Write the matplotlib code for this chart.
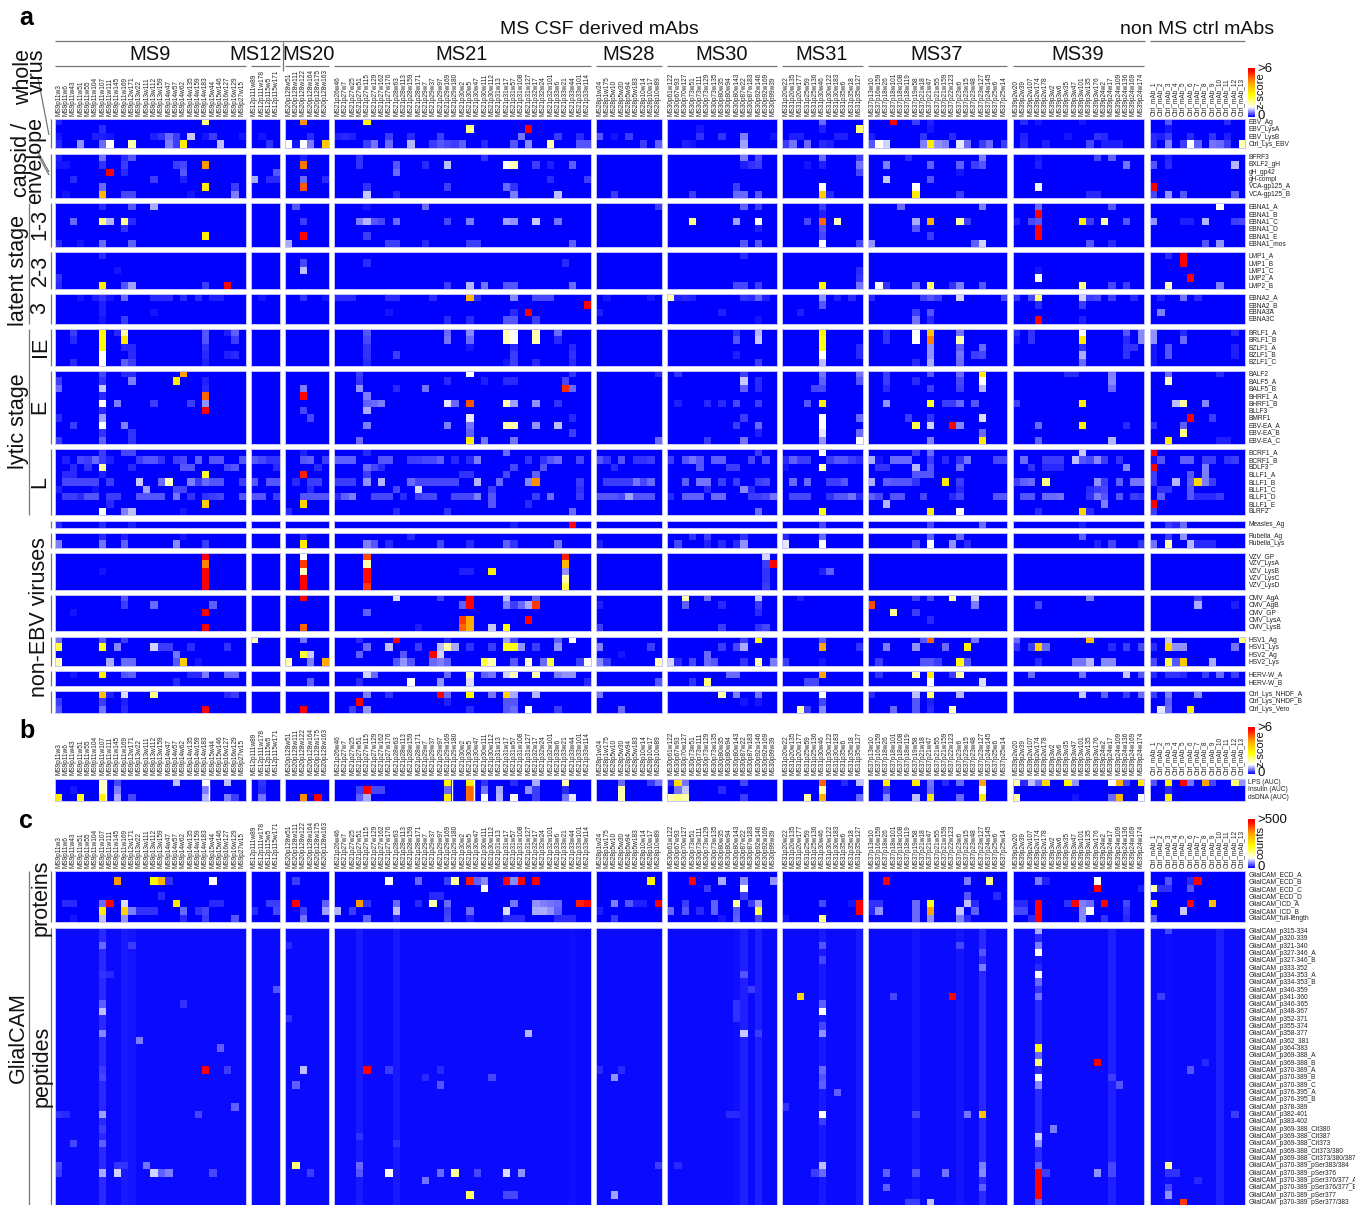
import numpy as np
import matplotlib
matplotlib.use("Agg")
import matplotlib.pyplot as plt
from matplotlib.colors import LinearSegmentedColormap, Normalize
from matplotlib.cm import ScalarMappable

plt.rcParams['font.family'] = ['Liberation Sans', 'DejaVu Sans']

# ---------- column labels ----------
COLS_MS9 = "MS9p11w3 MS9p11w6 MS9p11w43 MS9p11w51 MS9p11w55 MS9p11w104 MS9p11w107 MS9p11w111 MS9p11w145 MS9p11w169 MS9p12w171 MS9p13w22 MS9p13w111 MS9p13w112 MS9p13w159 MS9p14w47 MS9p14w57 MS9p14w62 MS9p14w135 MS9p14w159 MS9p14w183 MS9p15w44 MS9p15w146 MS9p16w127 MS9p16w129 MS9p27w15".split()
COLS_MS12 = "MS12p111w89 MS12p111w178 MS12p115w5 MS12p115w171".split()
COLS_MS20 = "MS20p128w51 MS20p128w111 MS20p128w122 MS20p128w164 MS20p128w175 MS20p128w163".split()
COLS_MS21 = "MS21p26w46 MS21p27w7 MS21p27w25 MS21p27w51 MS21p27w115 MS21p27w129 MS21p27w162 MS21p27w176 MS21p28w63 MS21p28w113 MS21p28w159 MS21p28w171 MS21p29w7 MS21p29w37 MS21p29w97 MS21p29w169 MS21p29w180 MS21p30w2 MS21p30w5 MS21p30w47 MS21p30w111 MS21p30w112 MS21p31w13 MS21p31w17 MS21p31w57 MS21p31w108 MS21p31w127 MS21p32w17 MS21p32w24 MS21p32w101 MS21p33w6 MS21p33w21 MS21p33w44 MS21p33w101 MS21p33w114".split()
COLS_MS28 = "MS28p1w24 MS28p1w175 MS28p5w10 MS28p5w30 MS28p5w94 MS28p5w183 MS28p10w14 MS28p10w17 MS28p10w89".split()
COLS_MS30 = "MS30p61w122 MS30p67w93 MS30p70w127 MS30p73w51 MS30p73w111 MS30p73w129 MS30p73w135 MS30p80w35 MS30p80w94 MS30p80w143 MS30p87w22 MS30p87w183 MS30p92w146 MS30p92w169 MS30p99w39".split()
COLS_MS31 = "MS31p20w22 MS31p20w135 MS31p20w177 MS31p25w59 MS31p25w136 MS31p30w46 MS31p30w122 MS31p30w183 MS31p35w6 MS31p35w18 MS31p35w127".split()
COLS_MS37 = "MS37p13w10 MS37p16w159 MS37p18w26 MS37p18w101 MS37p18w108 MS37p18w119 MS37p19w58 MS37p21w18 MS37p21w47 MS37p21w55 MS37p21w159 MS37p22w123 MS37p23w6 MS37p23w15 MS37p23w48 MS37p23w127 MS37p24w145 MS37p25w6 MS37p25w14".split()
COLS_MS39 = "MS39p2w20 MS39p2w39 MS39p2w107 MS39p2w174 MS39p2w178 MS39p3w2 MS39p3w6 MS39p3w35 MS39p3w47 MS39p3w101 MS39p3w135 MS39p3w176 MS39p24w2 MS39p24w17 MS39p24w109 MS39p24w136 MS39p24w169 MS39p24w174".split()
COLS_CTRL = ["Ctrl_mAb_%d" % i for i in range(1, 14)]

GROUP_NAMES = ["MS9", "MS12", "MS20", "MS21", "MS28", "MS30", "MS31", "MS37", "MS39", "Ctrl"]
GROUP_COLS = [COLS_MS9, COLS_MS12, COLS_MS20, COLS_MS21, COLS_MS28, COLS_MS30, COLS_MS31, COLS_MS37, COLS_MS39, COLS_CTRL]

# ---------- row labels ----------
ROWS_WHOLE = ["EBV_Ag", "EBV_LysA", "EBV_LysB", "Ctrl_Lys_EBV"]
ROWS_CAPSID = ["BFRF3", "BXLF2_gH", "gH_gp42", "gH-compl", "VCA-gp125_A", "VCA-gp125_B"]
ROWS_EBNA1 = ["EBNA1_A", "EBNA1_B", "EBNA1_C", "EBNA1_D", "EBNA1_E", "EBNA1_mos"]
ROWS_LMP = ["LMP1_A", "LMP1_B", "LMP1_C", "LMP2_A", "LMP2_B"]
ROWS_EBNA23 = ["EBNA2_A", "EBNA2_B", "EBNA3A", "EBNA3C"]
ROWS_IE = ["BRLF1_A", "BRLF1_B", "BZLF1_A", "BZLF1_B", "BZLF1_C"]
ROWS_E = ["BALF2", "BALF5_A", "BALF5_B", "BHRF1_A", "BHRF1_B", "BLLF3", "BMRF1", "EBV-EA_A", "EBV-EA_B", "EBV-EA_C"]
ROWS_L = ["BCRF1_A", "BCRF1_B", "BDLF3", "BLLF1_A", "BLLF1_B", "BLLF1_C", "BLLF1_D", "BLLF1_E", "BLRF2"]
ROWS_MEASLES = ["Measles_Ag"]
ROWS_RUBELLA = ["Rubella_Ag", "Rubella_Lys"]
ROWS_VZV = ["VZV_GP", "VZV_LysA", "VZV_LysB", "VZV_LysC", "VZV_LysD"]
ROWS_CMV = ["CMV_AgA", "CMV_AgB", "CMV_GP", "CMV_LysA", "CMV_LysB"]
ROWS_HSV = ["HSV1_Ag", "HSV1_Lys", "HSV2_Ag", "HSV2_Lys"]
ROWS_HERV = ["HERV-W_A", "HERV-W_B"]
ROWS_CTRLLYS = ["Ctrl_Lys_NHDF_A", "Ctrl_Lys_NHDF_B", "Ctrl_Lys_Vero"]
ROWS_B = ["LPS (AUC)", "Insulin (AUC)", "dsDNA (AUC)"]
ROWS_PROT = ["GlialCAM_ECD_A", "GlialCAM_ECD_B", "GlialCAM_ECD_C", "GlialCAM_ECD_D", "GlialCAM_ICD_A", "GlialCAM_ICD_B", "GlialCAM_full-length"]
ROWS_PEP = ["GlialCAM_" + s for s in ["p315-334", "p320-339", "p321-340", "p327-346_A", "p327-346_B", "p333-352", "p334-353_A", "p334-353_B", "p340-359", "p341-360", "p346-365", "p348-367", "p352-371", "p355-374", "p358-377", "p362_381", "p364-383", "p369-388_A", "p369-388_B", "p370-389_A", "p370-389_B", "p370-389_C", "p376-395_A", "p376-395_B", "p378-389", "p382-401", "p383-402", "p369-388_Cit380", "p369-388_Cit387", "p369-388_Cit373", "p369-388_Cit373/380", "p369-388_Cit373/380/387", "p370-389_pSer383/384", "p370-389_pSer376", "p370-389_pSer376/377_A", "p370-389_pSer376/377_B", "p370-389_pSer377", "p370-389_pSer377/383"]]

# ---------- values: {group: {row: {col: value}}}, unlisted cells are ~0 ----------
V_WHOLE = {
 "MS9": {0:{20:2.0,0:.15},1:{6:.2},2:{0:.1,5:.15,6:.15,7:.1,13:.15,14:.25,15:.5,16:.3,18:.95,21:.3,20:.1,25:.1},3:{0:.2,3:.7,6:.5,7:1.2,10:1.7,15:.6,16:.3,17:3.0,22:.9}},
 "MS12": {2:{1:.1},3:{2:.25}},
 "MS20": {0:{2:4.4},2:{3:.2},3:{0:1.2,1:.1,2:1.2,3:.6,5:3.6}},
 "MS21": {0:{4:2.9},1:{18:1.9,26:6},2:{0:.15,1:.2,2:.15,7:.3,10:.2,14:.3,25:.55,30:.3,33:.2},3:{4:.3,5:.55,7:.5,10:.85,13:.3,14:.4,15:.35,16:.3,17:.45,20:.2,24:.4,26:.65,29:1.7,33:.4,34:.4}},
 "MS28": {2:{0:.4,2:.1,4:.3},3:{6:.3,8:.45}},
 "MS30": {1:{4:.1},2:{4:.25,7:.25,10:.6,14:.1},3:{2:.15,3:.1,10:.75}},
 "MS31": {0:{5:.5},1:{10:2.0,5:.15},2:{1:.15,2:.15,7:.15,8:.15},3:{0:.3,1:.55,3:.5,5:.2,6:.15}},
 "MS37": {0:{3:6,6:.3,8:.15},1:{8:.1},2:{0:.15,7:.25,11:.2},3:{0:.4,1:1.2,2:1.0,7:.6,8:3.0,9:.7,10:.6,12:1.1,13:.5,15:.3,16:.5,18:.3}},
 "MS39": {0:{1:.2,3:.1,9:.1},2:{1:.15,7:.1,11:.25,12:.2},3:{1:.2,4:.15,10:.35,12:.15,13:.15,14:.15}},
 "Ctrl": {0:{2:.4,10:.2},1:{2:.1},2:{0:.2,1:.15,2:.3,5:.2,8:.25,10:.15},3:{0:.2,2:.6,4:.3,5:1.2,6:.45,8:.55,9:.5,10:.3,12:1.7}},
}
V_CAPSID = {
 "MS9": {0:{0:.15,6:.55,9:.2,10:.4},1:{0:.1,1:.1,6:.25,9:.3,16:.3,17:.35,20:4.3},2:{7:6,9:.2,17:.4},3:{2:.2,13:.3,17:.15},4:{6:.5,20:3.0,24:.3},5:{1:.1,6:3.9,9:.35,10:.35,18:.1,24:.6}},
 "MS12": {2:{3:.4},3:{0:.8,2:.2,3:.2}},
 "MS20": {0:{2:.15},1:{2:4.6},3:{2:.5,5:.2},4:{2:4.9}},
 "MS21": {0:{3:.25,20:.25},1:{3:.25,8:.4,12:.2,15:.9,23:1.2,24:1.6,27:.3,32:.45,29:.15},2:{8:.5},3:{29:.2,34:.3},4:{4:.25,15:.3,23:.5,24:.25},5:{4:.95,8:.2,24:.6,30:.9}},
 "MS28": {5:{2:.3}},
 "MS30": {0:{10:.6,12:.35},1:{12:.3,11:.25,10:.15},4:{9:.3},5:{3:.3,9:.5,10:.5,12:.4}},
 "MS31": {0:{5:.5,10:.3},1:{5:.15,10:.55,3:.1},2:{10:.35},4:{5:1.2},5:{5:3.6,6:.2}},
 "MS37": {0:{5:.2,15:.6},1:{2:.6,8:.45,12:.45,14:.3,15:.4},2:{12:.1},3:{2:.95,8:.4},4:{6:1.2},5:{6:3.0,12:.3}},
 "MS39": {0:{3:.1,11:.35,13:.45},1:{3:.15,15:.55},4:{3:1.15},5:{10:.2,11:.2}},
 "Ctrl": {0:{2:.15},1:{0:.4,2:.2,11:.85},4:{0:6},5:{0:.35,2:.7,4:.4,11:.45}},
}
V_EBNA1 = {
 "MS9": {0:{6:.2,10:.4,13:.8},2:{2:.5,6:1.9,7:.85,9:1.8,10:.2},3:{9:.25},4:{20:3.0},5:{0:.2,3:.1,6:.5,10:.45}},
 "MS20": {0:{1:.4},2:{2:.3},4:{2:6},5:{0:.8}},
 "MS21": {0:{12:.5,4:.1},2:{3:.6,4:.85,5:.4,6:.35,8:.5,15:.35,18:.6,23:.75,24:.7,27:.95,30:.55},4:{4:.3},5:{7:.3,8:.3,12:.2,18:.3,19:.3,32:.45}},
 "MS28": {0:{8:.3}},
 "MS30": {0:{10:.45,12:.3},2:{3:1.9,9:.75,12:1.2},3:{12:.15},5:{10:.4,12:.4}},
 "MS31": {0:{5:.3},1:{5:.15},2:{3:.35,5:4.8,7:1.6},3:{5:.4},4:{5:.35},5:{5:1.2,10:.35}},
 "MS37": {0:{4:.5,15:.6},2:{6:.8,8:4.0,12:1.8,13:.3},3:{6:.4},4:{8:.3},5:{0:.7,14:.45,15:1.0}},
 "MS39": {0:{3:.5,13:.4},1:{3:6},2:{0:.15,2:.35,3:.4,9:3.0,10:.3,12:1.7,15:.4},3:{3:6},4:{3:6},5:{10:.4,13:.2}},
 "Ctrl": {0:{9:1.2},2:{0:.7,4:.15,5:.15,7:.85,11:.3,12:.35},5:{7:.4,9:.7}},
}
V_LMP = {
 "MS9": {0:{6:.2},2:{8:.1},3:{0:.25},4:{0:.2,6:3.0,9:.4,10:.75,20:.3,23:6}},
 "MS20": {1:{2:.35},2:{2:.9}},
 "MS21": {1:{4:.2,31:.2},4:{15:.3,18:.85,20:.55,23:.4,24:.4,32:.5}},
 "MS30": {0:{10:.2},4:{9:.35,10:.35,12:.3}},
 "MS31": {2:{10:.2},3:{10:.25},4:{5:2.8,10:.55}},
 "MS37": {4:{1:1.2,2:.25,6:.5,8:2.1,11:.25,12:.6,15:.4}},
 "MS39": {2:{3:.1},3:{3:1.2},4:{9:1.9,13:.35,15:.3}},
 "Ctrl": {0:{2:.2,4:6},1:{4:6},3:{5:6},4:{2:1.6,9:.6}},
}
V_EBNA23 = {
 "MS9": {0:{3:.1,5:.15,6:.25,7:.1,9:.5,13:.2,14:.2,15:.2,17:.2,19:.2,21:.15,22:.15},1:{6:.15},2:{6:.15,13:.1},3:{6:.1,9:.3}},
 "MS12": {0:{1:.1}},
 "MS20": {0:{2:.25,5:.1}},
 "MS21": {0:{0:.2,1:.2,2:.2,7:.2,8:.2,13:.2,18:3.9,19:.2,24:.65,27:.35,28:.35,29:.35},1:{34:6},2:{7:.1,24:.2,26:6},3:{15:.2,18:.2,23:.4,24:.4,27:.3}},
 "MS28": {0:{1:.1,7:.1},2:{0:.15}},
 "MS30": {0:{0:1.7,1:.15,2:.2,3:.15,10:.25,11:.2,12:.45,13:.15},2:{7:.15},3:{12:.1}},
 "MS31": {0:{5:.7,7:.15,9:.2},1:{5:.4},2:{2:.15}},
 "MS37": {0:{0:.2,7:.3,8:.4,9:.3,12:1.0,18:.35},2:{6:.3,8:.4},3:{6:.55,8:.2}},
 "MS39": {0:{0:.25,2:.35,3:2.0,9:1.0,10:.3,11:.35,13:.3,16:.2},1:{3:.2,9:.3},3:{3:6,9:.15}},
 "Ctrl": {0:{1:.15,4:.55,6:.2},2:{1:.6}},
}
V_IE = {
 "MS9": {0:{2:.3,6:2.8,8:.2,9:1.8,20:.4,23:.15,24:.45},1:{2:.2,6:2.8,9:3.0,20:.4,24:.3},2:{6:2.8,9:.2,10:.2,20:.25},3:{6:1.2,10:.2,20:.2,23:.15,24:.2},4:{2:.2,6:1.2,9:.45,10:.3,20:.15}},
 "MS21": {0:{4:.4,15:.5,18:.65,23:1.7,24:1.2,27:1.7,30:.5},1:{4:.35,15:.55,18:.5,23:1.7,24:1.2,27:1.7,30:.2},2:{4:.25,18:.1,24:.2,32:.2},3:{4:.25,8:.3,24:.3,32:.25},4:{4:.2,23:.1,24:.3,27:.2,32:.2}},
 "MS30": {0:{9:.25,12:.85},1:{9:.4,12:.95},3:{9:.15},4:{12:.3}},
 "MS31": {0:{5:2.9},1:{5:2.6},2:{5:2.6,10:.2},3:{5:1.2,10:.2},4:{5:.9}},
 "MS37": {0:{2:.25,6:1.2,8:3.7,12:.55},1:{2:.25,6:1.2,8:4.5,12:1.7},2:{8:.7,12:.45,15:.5},3:{8:.7,12:.55,14:.3,15:.35},4:{6:.2,8:.8,12:.5}},
 "MS39": {0:{0:.2,2:.25,9:1.2,15:.4,17:.65},1:{0:.1,2:.25,9:3.0,15:.2,17:.65},2:{9:.25,15:.25,16:.25},3:{9:.8,15:.25},4:{9:.5}},
 "Ctrl": {0:{0:.7,4:.2,11:.2},1:{0:.7,4:.5},2:{0:.1,2:.4,11:.15},3:{0:.1,2:.4,11:.15},4:{0:.1}},
}
V_E = {
 "MS9": {0:{6:.35,9:.2,10:.2,17:4.2},1:{0:.3,6:.25,10:.6,16:3.0,20:.15},2:{0:.5,6:.95,20:.2},3:{6:.2,20:4.8},4:{6:1.2,8:.6,13:.3,18:.3,20:.7},5:{6:.2,20:6},6:{0:.2,6:.75},7:{2:.3,6:1.2,9:.6},8:{6:.25,10:.25},9:{0:.3,6:.45,10:.25}},
 "MS20": {2:{2:.6},3:{2:6},5:{2:.35},6:{3:.35}},
 "MS21": {0:{3:.3,18:1.2,32:.25},1:{3:.25,15:.2,20:.15,23:.2,24:.2,31:.35},2:{3:.7,8:.2,12:.55,31:5.3,32:.5},3:{4:.6},4:{4:.45,5:.5,6:.6,15:1.1,16:.5,18:4.9,23:1.7,24:.75,27:.7,30:.25},5:{4:.8},6:{18:1.1,32:.2},7:{4:.6,15:.6,18:.55,23:1.7,24:1.7,27:.7,30:.9},8:{18:.45,32:.3},9:{3:.5,18:3.0,20:.55,24:.55}},
 "MS28": {0:{8:.2},9:{8:.5}},
 "MS30": {0:{1:.25,10:.3},1:{10:.95,12:.2},2:{10:.45,12:.2},4:{1:.15,5:.2,7:.2,9:.35,12:.3},6:{10:.3},7:{9:.3,12:.5},8:{12:.15},9:{5:.3,10:.55}},
 "MS31": {0:{5:.55,10:.55},1:{5:.45,10:.4},2:{4:.35,5:.35},4:{3:.4,5:3.0},6:{5:1.2,10:.5},7:{5:1.2},8:{5:1.1,10:.5},9:{5:.7,10:1.2}},
 "MS37": {0:{2:.3,8:.4,12:.5,15:3.0},1:{2:.3,6:.2,12:.35,15:1.2},2:{2:.2,8:.3,12:.3,15:.85},4:{2:.7,8:2.5,10:.3,11:.3,12:.5,14:.4},6:{5:.3,8:.25,15:1.05},7:{6:2.3,8:1.0,11:5.8,12:.65},8:{15:.5},9:{8:.6,15:3.0}},
 "MS39": {0:{7:.2,8:.2,13:.6},1:{13:.65},2:{13:.5},4:{0:.3,9:3.0},7:{3:.5,9:2.9,15:.2},9:{3:.45,13:.85}},
 "Ctrl": {0:{2:.5,9:.2},1:{2:1.6},4:{3:.9,4:1.8,7:.65},6:{5:6,8:.3},7:{0:.25,4:.45},8:{4:1.9},9:{2:3.0,9:.15,10:.15}},
}
V_L = {
 "MS9": {0:{6:.3,9:.35,10:.35},1:{1:.15,3:.35,4:.3,5:.5,6:.3,7:.15,11:.3,12:.4,13:.4,14:.25,16:.3,17:.35,19:.45,21:.4,22:.4,25:.4},2:{2:.2,4:.25,6:1.8,10:.2,17:.4,18:.4,23:.35,24:.4},3:{1:.2,2:.2,6:.15,20:2.4},4:{1:.35,2:.35,3:.35,4:.35,5:.35,7:.3,11:.95,14:.5,15:1.6,18:.6,19:.3,20:.5,21:.4,22:.4,25:.3},5:{0:.15,5:.1,12:.75,16:.35,17:.35},6:{1:.3,2:.3,3:.2,4:.4,5:.4,7:.3,8:.3,11:.4,12:.4,13:.4,14:.4,16:.55,18:.25,20:.25,21:.3,22:.35,25:.4},7:{7:.2,20:3.5},8:{6:1.2,9:.6,10:.9,17:.1}},
 "MS12": {1:{0:.4,1:.35,2:.25,3:.25},2:{3:.2},4:{0:.4,2:.4,3:.4},6:{0:.4,1:.4,3:.3}},
 "MS20": {0:{2:.15},1:{2:.4,3:.45,5:.3},2:{4:.2},3:{2:5.4},4:{1:.2,3:.3,4:.3},5:{3:.2},6:{2:.4,3:.4,4:.4,5:.4},7:{2:3.4},8:{0:.2}},
 "MS21": {0:{4:.2,23:.5},1:{0:.45,1:.45,2:.45,6:.4,7:.4,10:.3,11:.3,12:.35,13:.35,14:.45,16:.2,18:.2,19:.6,26:.25,28:.25,29:.4,30:.5,33:.35},2:{4:.5,5:.35,6:.2,24:.35,28:.4},3:{4:.3,17:.25,18:.25,23:.35,27:.45},4:{0:.3,1:.3,2:.3,4:.7,6:.85,10:.5,11:.35,12:.35,13:.35,14:.35,15:.35,16:.35,19:.85,22:.5,26:.65,27:4.4,33:.3},5:{8:.35,11:1.05,21:.3,33:.25},6:{0:.2,1:.45,2:.6,5:.35,6:.35,7:.35,9:.2,11:.3,12:.35,13:.35,16:.35,17:.35,18:.35,19:.6,21:.4,27:.3,29:.5,33:.3},7:{21:.4,26:.2},8:{8:.2,15:.25,32:.5}},
 "MS28": {1:{0:.4,1:.25,3:.4,5:.25,6:.25,7:.3},2:{2:.2},4:{1:.3,2:.3,3:.3,4:.3,5:.55,6:.35,7:.5},6:{0:.4,1:.4,2:.4,3:.35,4:.75,5:.4,6:.4,7:.4}},
 "MS30": {0:{12:.3},1:{0:.3,2:.4,3:.55,4:.4,6:.45,7:.45,11:.35,13:.4},2:{4:.4,8:.3,9:.3},4:{2:.45,4:.55,5:.55,7:.3,9:.3,12:.3,13:.35},5:{5:.2,10:.65,11:.2},6:{0:.2,2:.45,3:.45,4:.45,6:.5,7:.5,11:.3,12:.3,13:.35,14:.55},8:{12:.5}},
 "MS31": {0:{5:1.2},1:{0:.2,1:.45,2:.3,3:.3,6:.3,7:.4,8:.4,9:.3,10:.2},2:{0:.1,5:1.6},4:{1:.5,3:.5,6:.3,7:.3,8:.4},6:{1:.35,2:.35,3:.35,6:.25,7:.4,8:.4,9:.55,10:.2},8:{5:2.6}},
 "MS37": {0:{6:.3,8:.5},1:{0:.8,1:.1,3:.5,4:.5,5:.5,8:.3,10:.2,12:.25,13:.55,17:.35,18:.35},2:{1:.25,2:.25,6:.85,8:.4,12:.5},3:{6:.4,7:.4,8:.4},4:{0:.8,2:.45,3:.4,4:.4,5:.4,6:.25,10:3.0,12:.3},5:{12:.2},6:{0:.45,1:.35,3:.4,4:.4,7:.35,11:.2,12:.35,17:.4,18:.4},7:{2:.85},8:{8:3.0,12:1.2}},
 "MS39": {0:{9:.95},1:{1:.5,4:.3,5:.3,6:.3,8:.9,9:.4,10:.35,11:.65,12:.3,14:.25},2:{2:.25,4:.2,5:.2,6:.2,15:.65},4:{0:.3,1:.45,2:.5,4:1.9,11:.7,12:.3,14:.45,16:.55,17:.55},5:{10:.2,11:.3,12:.35},6:{1:.4,2:.4,4:.5,5:.5,6:.55,10:.25,11:.6,12:.4,14:.4,16:.3,17:.25},7:{12:.6},8:{3:.2,9:3.4,10:.2}},
 "Ctrl": {0:{0:6},1:{0:.1,1:.4,4:.45,5:.45,7:.3,8:.3,10:.25,11:.3},2:{0:6,7:.6},3:{0:.3,5:.4,7:.6},4:{0:.3,3:.85,5:.45,6:3.4,7:.6,8:.3},5:{1:.25,2:.25,5:.4},6:{1:.45,5:.4,6:.2,7:.2,8:.2,9:.3},7:{0:6},8:{0:.3}},
}
V_MEASLES = {
 "MS9": {0:{0:.2,6:.2,10:.15}},
 "MS21": {0:{24:.15,32:6}},
 "MS31": {0:{5:.35}},
 "MS37": {0:{8:.35,15:.5}},
 "MS39": {0:{9:.15}},
 "Ctrl": {0:{2:.3,3:.2,4:.5}},
}
V_RUBELLA = {
 "MS9": {0:{6:.2,9:.15,17:.1},1:{0:.6,6:.55,9:.45,16:.65,20:.3}},
 "MS20": {0:{2:.2},1:{2:3.0}},
 "MS21": {0:{10:.2},1:{4:.6,5:.4,7:.2,14:.35,18:.2,23:.45,24:.25,30:.55}},
 "MS28": {1:{0:.15}},
 "MS30": {0:{3:.25,5:.3,10:.25},1:{1:.35,5:.15,7:.2,9:.2,10:.7}},
 "MS31": {0:{0:.2,5:.5},1:{0:1.1,5:1.2}},
 "MS37": {0:{8:.45,12:.5},1:{6:.35,8:1.2,11:.7,13:.2}},
 "MS39": {0:{9:.45},1:{11:.15,13:.35,17:.25}},
 "Ctrl": {0:{2:.3,4:.7},1:{0:.55,2:1.7,5:.85,6:.2,7:.2,8:.2}},
}
V_VZV = {
 "MS9": {0:{20:5.9},1:{20:4.5},2:{6:.1,20:6},3:{20:6},4:{20:6}},
 "MS20": {0:{2:1.2},1:{2:5.2},2:{2:1.6},3:{2:5.8},4:{2:5.8}},
 "MS21": {0:{4:5.0,31:5.4},1:{4:1.7,31:3.9},2:{4:5.6,17:.15,18:.15,21:3.0,31:.7},3:{4:5.6,31:1.7},4:{4:5.2,31:2.3}},
 "MS30": {0:{13:1.0},1:{13:.3,14:6},2:{13:.25},3:{13:.25},4:{13:.3}},
 "MS31": {2:{5:.15,6:.45}},
}
V_CMV = {
 "MS9": {0:{9:.4},1:{9:.3,13:.5,21:.45},2:{2:.1,20:6},4:{20:6}},
 "MS20": {0:{2:6},4:{2:4.8}},
 "MS21": {0:{8:1.05,14:.3,18:6,23:.9,27:.45},1:{17:.45,18:6,23:.6,24:.3,25:.5,26:.8,27:5.2},2:{4:.45},3:{17:5.2,18:4.1,26:6},4:{11:.15,17:4.8,18:4.1,21:.95,23:2.7}},
 "MS28": {1:{0:.15},4:{0:.3}},
 "MS30": {0:{2:1.7,5:.5,12:.95},1:{2:.45,7:.2,12:.3},2:{12:.2},4:{7:.3,12:.25,13:.35}},
 "MS31": {0:{2:.15}},
 "MS37": {0:{6:.3,8:.35,11:1.7,14:1.0},1:{0:5.0,14:.6},2:{3:1.8,6:.3},3:{8:.2}},
 "MS39": {0:{10:.6},1:{3:.35}},
 "Ctrl": {0:{6:.3},1:{6:.8,11:.15}},
}
V_HSV = {
 "MS9": {0:{0:.55,6:.4,9:.3},1:{0:2.3,6:2.6,8:.65,13:1.0,14:.3,15:.3,18:.2,23:.25},2:{16:.55},3:{0:1.6,7:.8,9:.5,10:.5,16:.4,17:3.5,19:.1}},
 "MS12": {0:{0:1.6}},
 "MS20": {0:{2:.55},2:{2:2.4,3:.95},3:{0:1.6,3:.6,5:4.1}},
 "MS21": {0:{3:.2,8:5.9,15:.2,23:.75,24:.35,30:.45,32:1.2},1:{4:.5,7:.9,11:.3,14:.9,15:1.7,16:.8,18:.25,21:.3,23:2.6,24:2.6,25:.7,27:.3,30:.7},2:{3:.45,9:.4,13:6,14:1.0},3:{8:.4,9:.7,10:.4,13:.5,14:.6,15:.45,20:2.3,21:1.7,24:.4,26:1.5,28:.5,29:2.3,33:.3,34:1.2}},
 "MS28": {1:{0:.6,7:.3},2:{3:.1},3:{0:.65,1:.3,8:1.6}},
 "MS30": {0:{10:.3,12:2.8},1:{7:.3,9:.35,10:.8},2:{5:.5},3:{0:1.0,1:.2,3:.35,5:.5,6:.4,10:.25,12:1.7,14:.6}},
 "MS31": {0:{5:.4},1:{5:4.2,10:.25},3:{0:.3,5:.1}},
 "MS37": {0:{7:.4,8:4.8,14:.55},1:{2:.6,6:.7,10:.5,13:2.9},3:{1:.3,7:.4,8:.4,9:.3,12:2.8,13:.4}},
 "MS39": {0:{0:.5,10:3.8},1:{0:.25,2:.3,3:3.5,4:.5,13:.2,15:.3,17:.35},3:{3:.2,8:.55,9:.55,10:.85,12:.65,13:.65}},
 "Ctrl": {0:{2:.95,12:2.0},1:{0:.2,2:3.4,3:.7,4:.7,11:.55},3:{0:.35,2:2.3,3:.4,4:3.6,8:.8}},
}
V_HERV = {
 "MS9": {0:{2:.1,6:3.0,9:.4,10:.45,18:.2,19:.2,20:.6,23:.5,24:.5},1:{16:.2}},
 "MS20": {1:{3:.45}},
 "MS21": {0:{4:1.0,5:.5,15:.5,18:1.7,20:.45,21:.55,23:1.0,24:1.6,27:1.7,30:.6,31:.7,32:.7},1:{3:.2,10:1.2,14:.7,18:1.05,34:.2}},
 "MS28": {1:{8:.4}},
 "MS30": {0:{8:.5,9:.5},1:{3:.25,5:2.0}},
 "MS31": {0:{5:4.2},1:{3:.35,4:.35}},
 "MS37": {0:{1:.25,6:1.7,8:3.0,11:.3,12:1.7},1:{8:1.2,15:1.05}},
 "MS39": {0:{2:.5,9:.55,15:.95,17:.4}},
 "Ctrl": {0:{0:.2,2:.25,3:.25,4:.2,7:.3,9:.5,11:.3}},
}
V_CTRLLYS = {
 "MS9": {0:{6:3.8,7:.15,9:1.05,13:1.9,23:.2,24:.3},1:{0:.3,6:.3,9:.15},2:{0:.4,6:.55,9:.2,20:6}},
 "MS20": {2:{2:6}},
 "MS21": {0:{4:.6,7:.25,14:5.8,15:.5,18:2.8,21:.55,23:3.4,24:.8,27:.85},1:{3:6,15:.15,23:.4,24:.4},2:{2:.3,4:.7,18:.2,23:.4,24:.5,26:1.2,30:.3}},
 "MS28": {0:{0:.55},2:{3:.5}},
 "MS30": {0:{7:1.7,9:.6,12:.55},1:{10:.1,12:.1}},
 "MS31": {0:{5:1.2},1:{5:.35},2:{2:1.7,3:.3,5:.65}},
 "MS37": {0:{0:.2,6:.9,8:2.1,12:.85},1:{6:.4,8:.15},2:{3:.5,6:.4,8:.2,11:1.6}},
 "MS39": {0:{9:.95,12:.45,15:.3,17:.5}},
 "Ctrl": {0:{0:.3,2:.6,6:.65},1:{2:.45},2:{1:1.1,2:.5,5:3.0}},
}
V_B = {
 "MS9": {0:{6:1.6,8:.35,16:.9,20:1.2,23:.9},1:{2:.1,6:1.6,8:.6,20:.6},2:{0:3.0,3:2.6,6:2.9,8:.8,10:.35,20:.85,23:.6,24:.3}},
 "MS12": {0:{1:.25},1:{1:.2},2:{1:.55}},
 "MS20": {2:{2:4.4,4:6}},
 "MS21": {0:{15:2.9,18:3.0,20:.25,24:.2,27:.8,31:1.7},1:{3:.3,4:5.9,5:.35,6:.35,15:.5,18:4.7,20:.55,22:.8,26:.7,27:.3,31:.2},2:{3:.45,4:.8,15:3.0,18:4.7,20:1.2,22:.85,24:1.3,27:.3,31:.55,32:1.1}},
 "MS28": {0:{3:.5,7:.3,8:.55},1:{3:1.7},2:{3:1.7}},
 "MS30": {0:{0:.2,1:3.3,2:.55,10:.35},1:{1:.55,2:.95,7:.2},2:{0:1.6,1:1.9,2:1.7,10:.3}},
 "MS31": {0:{5:4.8,8:.2,10:.9},1:{5:1.7},2:{3:1.7,5:4.0,10:.5}},
 "MS37": {0:{2:3.0,6:3.0,8:.55,10:.2,12:.5,15:4.2},1:{2:.3,8:.5,15:1.2},2:{2:.65,6:.9,8:3.1,12:.5,15:3.1}},
 "MS39": {0:{0:1.7,1:.2,2:.9,3:.5,4:3.3,7:2.9,8:.7,13:1.2,14:4.0,15:.35,17:3.0},2:{0:1.8,8:.1,13:.5,14:3.9,17:1.2}},
 "Ctrl": {0:{0:.4,2:2.9,4:6,5:.55,7:4.2,8:.35,11:2.0,12:.7},1:{2:.2},2:{2:2.9}},
}
# column boundaries with a thin white split in panel b
B_SPLITS = {"MS9": [7, 21], "MS21": [16, 19]}
V_PROT = {
 "MS9": {1:{8:4.3,13:2.7,14:3.9,15:.25,21:1.2},3:{14:.2},4:{1:.2,2:.2,6:.5,7:6,9:1.05,16:3.1,21:.2,22:.2},5:{6:3.0,9:3.4,10:.6,11:.25,12:.25,13:.25,17:.5,19:.25,20:.35},6:{2:.1,6:.9,9:.7,17:.2,20:.3,24:.4}},
 "MS12": {4:{2:.3,3:.3},5:{0:.2,3:.35}},
 "MS20": {1:{1:.3},4:{1:6,5:.45},5:{2:.3,5:.75},6:{2:.55}},
 "MS21": {1:{7:1.2,11:.5,15:.3,16:1.75,18:5.5,19:.45,20:.65,23:6,24:.65,25:6,27:6},2:{20:1.2},3:{13:.2,14:.2},4:{3:4.3,4:.25,8:.5,11:.2,13:1.7,15:.5,24:.55,27:.7,28:.6,29:.55,30:.5,33:5.4,34:6},5:{0:.85,2:.3,8:.9,15:.3,18:.5,23:1.05,27:.8,28:.8,29:.7,30:.45},6:{4:.45,8:.2,15:.35,18:.15,23:.2,24:.2,25:.2,30:.2,31:.2,32:.2}},
 "MS28": {1:{7:2.9},4:{2:.6,4:.4,5:.15,6:.15,8:6},5:{0:.15},6:{2:.3}},
 "MS30": {1:{3:6,7:.8,10:.65,14:.7},2:{5:.3,10:1.2},3:{10:.3},4:{2:.3,6:.45,9:1.8,11:.3,12:.75},5:{0:.5,2:.4,4:.2,6:.45,9:.4,12:2.3},6:{7:.1,9:.45,12:.35}},
 "MS31": {4:{5:.35,9:.1,10:6},5:{10:6},6:{0:.1,5:1.9}},
 "MS37": {1:{2:6,13:.6,16:1.9},3:{13:.4,17:.2},4:{0:.25,1:.25,6:.5,8:2.6,13:.9,14:.2},5:{0:.2,1:.7,6:.5,8:4.2,12:.95,14:.45},6:{6:.5,8:.7,12:.6,13:.2}},
 "MS39": {1:{3:.6,4:.15,11:1.2},2:{11:6,17:.15},4:{0:.2,1:.2,3:6,7:.25,8:5.8,9:.6,10:.5,12:6,15:.35},5:{0:.35,1:.35,3:6,9:.65,10:1.2,15:.25},6:{2:.2,3:6,9:.65,12:.25,15:.2}},
 "Ctrl": {1:{2:.4,5:.2,6:6},2:{0:1.7,1:.25,2:.25,5:.4},4:{0:2.8,5:6,8:3.8},5:{4:.95},6:{0:.4}},
}
V_PEP = {
 "MS9": {2:{6:.5,10:.3},6:{6:.25,7:.2},10:{6:.45,17:.25},11:{6:.9},14:{6:.65},15:{11:.6},16:{22:.45},19:{6:.3,20:6,23:.3},20:{6:.35},24:{24:.45},25:{0:.25,1:.2,6:.75,19:.35},27:{6:.3},29:{2:.35,6:.45},32:{0:.35,6:.2,8:.25,9:.25,12:.55},33:{0:.3,6:.8,8:1.0,13:1.0,14:.45,15:.6,21:.35}},
 "MS12": {8:{3:.4}},
 "MS20": {2:{0:.2},12:{0:.25},19:{2:.9},21:{1:.45},32:{1:2.0},33:{3:.3}},
 "MS21": {14:{26:.85},19:{4:6,7:.3,14:.2},20:{12:.2,21:.35},21:{14:.4},28:{3:.25},29:{8:.25},32:{3:.5},33:{3:.4,7:1.2,14:.5,16:1.8,19:.35,23:1.05,25:.7},34:{12:.55},36:{18:2.1,23:.35,24:.35}},
 "MS28": {19:{0:.2,3:.2},20:{2:.7},32:{8:.3},36:{2:.75}},
 "MS30": {6:{10:.4},8:{11:.3},10:{9:.25},11:{9:.25},12:{9:.25},14:{10:.95,12:.3},25:{8:.2,9:.2},32:{1:.2}},
 "MS31": {2:{5:.4},4:{5:.35},9:{2:3.4},10:{5:.45},11:{5:1.2},13:{5:.35},14:{5:.7},19:{5:.5},20:{5:.4},21:{5:.45},22:{7:.45},24:{0:.25},25:{5:1.2},26:{5:.3},32:{5:.9},33:{4:.3,5:.5}},
 "MS37": {2:{12:.35},3:{15:.4},5:{15:.6},9:{3:.35,11:6},25:{6:.35,13:.55,15:3.7},32:{15:.6},33:{2:.45,6:.4,10:.55,15:.65},35:{2:.45,15:.45},37:{5:.3,6:.3,8:.9}},
 "MS39": {0:{3:.8},2:{3:.6},3:{3:1.2},4:{3:.1},6:{3:1.2},7:{3:.5},8:{3:.25},9:{3:.55},16:{3:2.7},17:{3:.5},18:{3:2.0,11:6},20:{3:1.2,13:.3},21:{3:.65,14:.4},27:{5:.6},28:{3:1.0},29:{3:.7},32:{3:.5,13:.35},33:{3:6,4:.3,11:.7,13:.35},34:{3:6},35:{3:6},36:{3:6},37:{3:.45}},
 "Ctrl": {0:{2:.35},9:{1:.3},18:{7:.2},19:{5:.4},25:{11:.3},32:{2:1.8},33:{2:.25,3:.25},34:{6:.2},35:{2:.35},36:{2:.7},37:{4:5.2}},
}
# faint per-column level seen through the whole peptide block
PEP_BASE = 0.05
PEP_COL_LEVELS = {
 "MS9": {6:.19,9:.14,10:.1,20:.07,24:.07}, "MS12": {3:.07}, "MS20": {2:.07},
 "MS21": {3:.12,4:.07,8:.12,20:.07,24:.07,32:.08},
 "MS28": {2:.07}, "MS30": {9:.08,10:.15,12:.15}, "MS31": {5:.14,10:.12},
 "MS37": {6:.1,12:.1,15:.19}, "MS39": {3:.2,9:.06,13:.15}, "Ctrl": {2:.08,9:.15,11:.07},
}

# ---------- layout in reference pixels ----------
W, H = 1355, 1205
CELL = 7.33
GROUP_LEFT = [55, 250.6, 285, 334.3, 596, 667, 782, 868, 1012.5, 1149.7]
SECTIONS = [
 (V_WHOLE, ROWS_WHOLE, 119), (V_CAPSID, ROWS_CAPSID, 154), (V_EBNA1, ROWS_EBNA1, 203.3),
 (V_LMP, ROWS_LMP, 252.3), (V_EBNA23, ROWS_EBNA23, 294.3), (V_IE, ROWS_IE, 329),
 (V_E, ROWS_E, 370.7), (V_L, ROWS_L, 449.3), (V_MEASLES, ROWS_MEASLES, 520.7),
 (V_RUBELLA, ROWS_RUBELLA, 533), (V_VZV, ROWS_VZV, 553), (V_CMV, ROWS_CMV, 594.7),
 (V_HSV, ROWS_HSV, 636.7), (V_HERV, ROWS_HERV, 671.3), (V_CTRLLYS, ROWS_CTRLLYS, 691),
 (V_B, ROWS_B, 779), (V_PROT, ROWS_PROT, 871), (V_PEP, ROWS_PEP, 927.7),
]

CMAP = LinearSegmentedColormap.from_list("zs", [(0, "#0000ff"), (.2, "#ffffff"), (.45, "#ffff00"),
                                                 (.7, "#ffa500"), (.95, "#ff0000"), (1, "#ff0000")])
NORM = Normalize(0, 6)

fig = plt.figure(figsize=(W / 100, H / 100), dpi=100, facecolor="white")


def px_axes(l, t, w, h, **kw):
    return fig.add_axes([l / W, 1 - (t + h) / H, w / W, h / H], **kw)


for values, rows, top in SECTIONS:
    for name, cols, left in zip(GROUP_NAMES, GROUP_COLS, GROUP_LEFT):
        z = np.zeros((len(rows), len(cols)))
        if values is V_PEP:
            z += PEP_BASE
            for c, v in PEP_COL_LEVELS.get(name, {}).items():
                z[:, c] = v
        for r, cells in values.get(name, {}).items():
            for c, v in cells.items():
                z[r, c] = v
        ax = px_axes(left, top, len(cols) * CELL, len(rows) * CELL)
        ax.imshow(z, cmap=CMAP, norm=NORM, aspect="auto", interpolation="nearest")
        ax.set_xticks([]); ax.set_yticks([])
        for s in ax.spines.values():
            s.set_color("#c4c4ff"); s.set_linewidth(0.7)
        if values is V_B:
            for c in B_SPLITS.get(name, []):
                ax.axvline(c - .5, color="white", lw=1.0)

# overlay in pixel coordinates for text and rules
ov = fig.add_axes([0, 0, 1, 1], zorder=5)
ov.set_xlim(0, W); ov.set_ylim(H, 0); ov.axis("off"); ov.patch.set_alpha(0)

TXT = "#111111"
LINE = "#777777"


def rule(x0, y0, x1, y1, lw=0.9, c=LINE):
    ov.plot([x0, x1], [y0, y1], color=c, lw=lw, solid_capstyle="butt", clip_on=False)


# column labels
for bottom in (116.5, 775, 868):
    for cols, left in zip(GROUP_COLS, GROUP_LEFT):
        for i, lab in enumerate(cols):
            ov.text(left + (i + .5) * CELL, bottom, lab, rotation=90, ha="center", va="bottom",
                    fontsize=4.7, color="#222222")

# row labels
for values, rows, top in SECTIONS:
    for i, lab in enumerate(rows):
        ov.text(1248.5, top + (i + .5) * CELL, lab, ha="left", va="center", fontsize=4.8, color="#222222")

# headers
ov.text(599, 30, "MS CSF derived mAbs", ha="center", va="center", fontsize=14, color=TXT)
ov.text(1197, 30, "non MS ctrl mAbs", ha="center", va="center", fontsize=14, color=TXT)
rule(55, 41, 1144.5, 41); rule(1149.7, 41, 1245, 41)
rule(282.5, 42, 282.5, 71)
HEAD_X = [150, 256, 309, 462, 629, 722, 822, 937, 1078]
for name, x in zip(GROUP_NAMES, HEAD_X):
    ov.text(x, 55, name, ha="center", va="center", fontsize=14.5, color=TXT)
for cols, left in list(zip(GROUP_COLS, GROUP_LEFT))[:-1]:
    rule(left, 66, left + len(cols) * CELL, 66)

# panel letters
for s, x, y in [("a", 26, 18), ("b", 27, 731), ("c", 26, 821)]:
    ov.text(x, y, s, ha="center", va="center", fontsize=18, fontweight="bold", color="black")

# left side labels
SIDE = [("whole", 24, 77, 15.5), ("virus", 37, 71, 15.5), ("capsid /", 22, 160, 15.5), ("envelope", 36, 160, 15.5),
        ("latent stage", 19, 270, 15.5), ("1-3", 40, 225, 15.5), ("2-3", 40, 270, 15.5), ("3", 40, 308, 15.5),
        ("IE", 40, 347, 15.5), ("E", 40, 407, 15.5), ("L", 40, 482, 15.5), ("lytic stage", 19, 421, 15.5),
        ("non-EBV viruses", 40, 617, 15.5), ("proteins", 41, 898, 15.5), ("GlialCAM", 18, 1038, 15.5),
        ("peptides", 42, 1066, 15.5)]
for s, x, y, fs in SIDE:
    ov.text(x, y, s, rotation=90, ha="center", va="center", fontsize=fs, color=TXT)

for values, rows, top in SECTIONS:
    if values is V_B:
        continue
    rule(51, top, 51, min(top + len(rows) * CELL, H))
rule(29, 203, 29, 323.7); rule(29, 329, 29, 515.3); rule(29, 871, 29, 1205)
rule(38, 78, 49, 135); rule(38, 155, 49, 175); rule(37, 150, 49, 172)

# colour bars
for top, hgt, hi, name in [(68, 49, ">6", "z-score"), (727, 47, ">6", "z-score"), (819, 49, ">500", "counts")]:
    cax = px_axes(1248, top, 7, hgt)
    cb = fig.colorbar(ScalarMappable(norm=NORM, cmap=CMAP), cax=cax)
    cb.set_ticks([]); cb.outline.set_visible(False)
    ov.text(1257, top + 1, hi, ha="left", va="center", fontsize=9.5, color=TXT)
    ov.text(1257, top + hgt - 1, "0", ha="left", va="center", fontsize=9.5, color=TXT)
    ov.text(1260, top + hgt * .47, name, rotation=90, ha="center", va="center", fontsize=8, color=TXT)

fig.savefig("out.png", dpi=100)
